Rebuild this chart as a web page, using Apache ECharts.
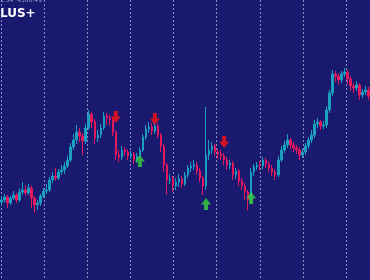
<!DOCTYPE html>
<html><head><meta charset="utf-8">
<script src="https://cdn.jsdelivr.net/npm/echarts@6/dist/echarts.min.js"></script>
<style>html,body{margin:0;padding:0;background:#191970;}#c{width:370px;height:280px;}</style>
</head><body><div id="c"></div>
<script>
var opens = [78,80,83,77,82,85,80,88,90,87,92,82,75,77,84,89,90,100,104,102,108,110,114,120,133,140,148,144,139,152,166,158,142,145,152,164,162,160,148,125,123,130,128,124,126,120,124,130,143,151,153,149,154,145,134,115,100,101,94,98,101,96,105,112,114,115,109,102,94,125,130,134,128,126,124,120,115,117,105,109,99,94,88,80,108,113,115,114,120,116,112,108,105,120,130,135,140,135,132,130,125,128,134,140,145,156,158,154,155,170,187,206,204,200,206,208,201,194,192,195,185,188,190];
var closes = [80,83,77,82,85,80,88,90,87,92,82,75,77,84,89,90,100,104,102,108,110,114,120,133,140,148,144,139,152,166,158,142,145,152,164,162,160,148,125,123,130,128,124,126,120,124,130,143,151,153,149,154,145,134,115,100,101,94,98,101,96,105,112,114,115,109,102,94,125,130,134,128,126,124,120,115,117,105,109,99,94,88,80,108,113,115,114,120,116,112,108,105,120,130,135,140,135,132,130,125,128,134,140,145,156,158,154,155,170,187,206,204,200,206,208,201,194,192,195,185,188,190,184];
var lows = [74,77,72,75,80,77,78,85,84,85,72,67,70,74,82,86,88,97,99,100,105,106,112,118,130,136,138,125,136,150,152,136,138,142,150,155,154,144,120,118,120,124,120,121,116,117,122,128,140,147,145,146,142,128,108,85,96,88,90,93,92,94,102,108,110,105,98,85,90,120,126,124,121,120,115,110,111,100,101,94,90,80,70,78,104,110,110,111,112,108,104,100,103,118,127,132,131,128,126,120,122,125,131,137,142,152,150,151,152,167,184,198,195,197,203,196,189,187,189,180,182,185,180];
var highs = [84,86,85,84,89,87,92,98,95,96,94,84,80,86,92,96,103,108,112,111,115,118,124,137,146,155,152,147,156,170,168,161,150,156,168,167,165,163,150,130,134,133,131,129,128,127,133,146,155,158,157,158,157,147,136,117,106,104,102,106,104,108,115,118,120,118,112,104,173,140,138,136,131,130,127,123,120,119,112,111,102,97,90,112,116,118,119,123,122,119,115,111,124,134,139,146,142,138,135,133,131,137,143,150,160,162,160,159,174,190,210,209,207,209,212,210,204,197,199,197,191,194,193];
var sellIdx = [38, 51, 74];
var sellPrice = [163, 161, 138];
var buyIdx = [46, 68, 83];
var buyPrice = [119, 76, 82];

var cats = opens.map(function(_, i){ return i; });
var candles = opens.map(function(o, i){ return [o, closes[i], lows[i], highs[i]]; });
var sells = sellIdx.map(function(x, i){ return [x, sellPrice[i]]; });
var buys = buyIdx.map(function(x, i){ return [x, buyPrice[i]]; });

var chart = echarts.init(document.getElementById('c'), null, {renderer:'canvas'});
chart.setOption({
  backgroundColor: '#191970',
  animation: false,
  grid: [
    {left:0, right:0, top:0, bottom:0},
    {left:1, right:0, top:0, bottom:0}
  ],
  xAxis: [
    {type:'category', data:cats, gridIndex:0, boundaryGap:true, show:false},
    {type:'value', gridIndex:1, min:0, max:369, interval:43.125, show:true,
     axisLine:{show:false}, axisTick:{show:false}, axisLabel:{show:false},
     splitLine:{show:true, lineStyle:{color:'rgba(170,170,215,0.8)', width:1, type:[2,2]}}}
  ],
  yAxis: [
    {type:'value', gridIndex:0, min:0, max:280, show:false},
    {type:'value', gridIndex:1, min:0, max:280, show:false}
  ],
  series: [
    {type:'candlestick', xAxisIndex:0, yAxisIndex:0, data:candles, barWidth:2,
     itemStyle:{color:'#1a9fbe', color0:'#e3185d', borderColor:'#1a9fbe', borderColor0:'#e3185d', borderWidth:1}},
    {type:'scatter', xAxisIndex:0, yAxisIndex:0, data:sells, symbol:'path://M3,0 L7,0 L7,5 L10,5 L5,11 L0,5 L3,5 Z',
     symbolSize:[10,12], itemStyle:{color:'#ff1010'}},
    {type:'scatter', xAxisIndex:0, yAxisIndex:0, data:buys, symbol:'path://M5,0 L10,6 L7,6 L7,11 L3,11 L3,6 L0,6 Z',
     symbolSize:[10,12], itemStyle:{color:'#3ad23a'}}
  ],
  graphic: [
    {type:'text', left:0, top:-3, style:{text:'1.34  4500.49', fill:'#9a9ac8', font:'6px "DejaVu Sans"'}},
    {type:'text', left:0, top:8, style:{text:'LUS+', fill:'#ffffff', font:'bold 12px "DejaVu Sans"'}}
  ]
});
</script></body></html>
